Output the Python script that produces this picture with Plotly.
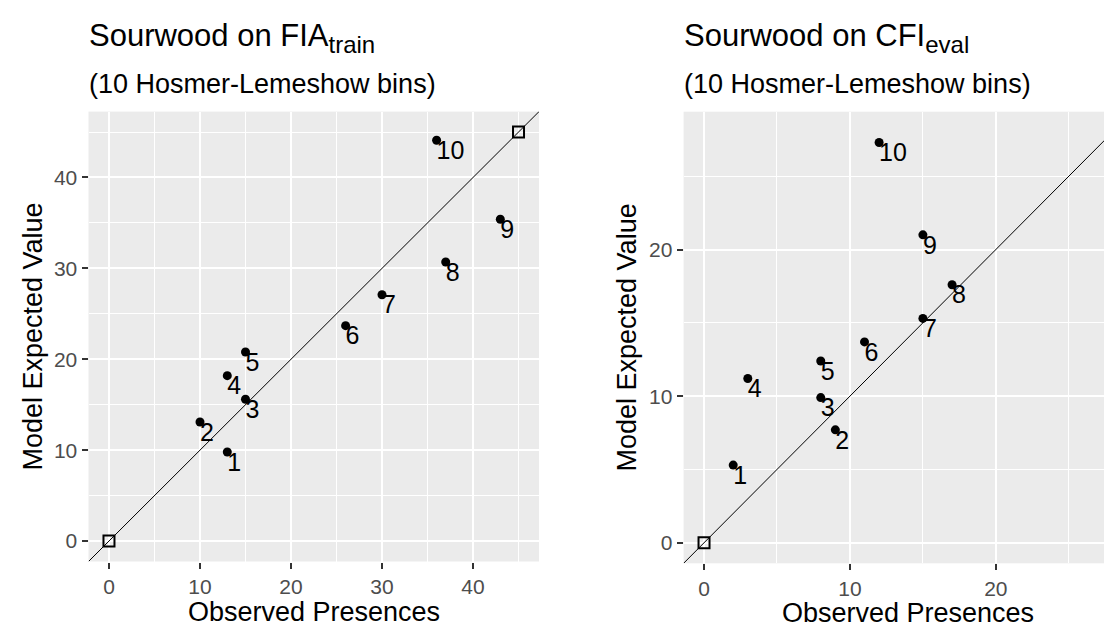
import plotly.graph_objects as go

# ---------------- data ----------------
bins = ["1", "2", "3", "4", "5", "6", "7", "8", "9", "10"]

fia_observed = [13, 10, 15, 13, 15, 26, 30, 37, 43, 36]
fia_expected = [9.8, 13.1, 15.6, 18.2, 20.8, 23.7, 27.1, 30.7, 35.4, 44.1]
fia_ref_x = [0, 45]
fia_ref_y = [0, 45]

cfi_observed = [2, 9, 8, 3, 8, 11, 15, 17, 15, 12]
cfi_expected = [5.3, 7.7, 9.9, 11.2, 12.4, 13.7, 15.3, 17.6, 21.0, 27.3]
cfi_ref_x = [0, 28]
cfi_ref_y = [0, 28]

fia_ticks = [0, 10, 20, 30, 40]
cfi_ticks = [0, 10, 20]

# ---------------- layout constants ----------------
W, H = 1112, 626
FONT = "Liberation Sans, Arial, sans-serif"
PANEL_BG = "#EBEBEB"
TICK_GREY = "#4D4D4D"

def px_x(p):
    return p / W

def px_y(p):
    return 1 - p / H

# left panel pixel box
L_LEFT, L_RIGHT, L_TOP, L_BOTTOM = 80.5, 531.0, 103.6, 553.5
# right panel pixel box (the reference crops the right panel at the image edge)
R_LEFT, R_FULL_RIGHT, R_TOP, R_BOTTOM = 675.6, 1125.0, 103.7, 555.3
R_RIGHT = 1112.0

fia_range_x = [-2.25, 47.25]
fia_range_y = [-2.25, 47.25]
cfi_full_x = [-1.4, 29.4]
cfi_range_x = [cfi_full_x[0],
               cfi_full_x[0] + (R_RIGHT - R_LEFT) / (R_FULL_RIGHT - R_LEFT)
               * (cfi_full_x[1] - cfi_full_x[0])]
cfi_range_y = [-1.4, 29.4]

fig = go.Figure()

def add_panel(obs, exp, refx, refy, line_ends, xa, ya):
    # identity reference line y = x
    fig.add_trace(go.Scatter(
        x=line_ends, y=line_ends, mode="lines",
        line=dict(color="black", width=1), xaxis=xa, yaxis=ya,
        hoverinfo="skip", showlegend=False))
    fig.add_trace(go.Scatter(
        x=refx, y=refy, mode="markers",
        marker=dict(symbol="square-open", size=11, color="black",
                    line=dict(width=2, color="black")),
        xaxis=xa, yaxis=ya, showlegend=False, cliponaxis=False))
    fig.add_trace(go.Scatter(
        x=obs, y=exp, mode="markers",
        marker=dict(symbol="circle", size=9, color="black"),
        xaxis=xa, yaxis=ya, showlegend=False, cliponaxis=False))
    fig.add_trace(go.Scatter(
        x=obs, y=exp, mode="text", text=bins,
        textposition="bottom right",
        textfont=dict(family=FONT, size=25, color="black"),
        xaxis=xa, yaxis=ya, showlegend=False, cliponaxis=False,
        hoverinfo="skip"))

add_panel(fia_observed, fia_expected, fia_ref_x, fia_ref_y, fia_range_x, "x", "y")
add_panel(cfi_observed, cfi_expected, cfi_ref_x, cfi_ref_y, cfi_full_x, "x2", "y2")

def axis(domain, rng, ticks, anchor, minor_dtick):
    return dict(
        domain=domain, range=rng, anchor=anchor,
        tickmode="array", tickvals=ticks, ticktext=[str(t) for t in ticks],
        showgrid=True, gridcolor="white", gridwidth=1.9,
        minor=dict(dtick=minor_dtick, tick0=5, showgrid=True,
                   gridcolor="white", gridwidth=0.9, ticks=""),
        zeroline=False, showline=False,
        ticks="outside", ticklen=6, tickwidth=1.5, tickcolor="#333333",
        tickfont=dict(family=FONT, size=21, color=TICK_GREY),
        fixedrange=True,
    )

fig.update_layout(
    width=W, height=H,
    margin=dict(l=0, r=0, t=0, b=0),
    paper_bgcolor="white",
    plot_bgcolor=PANEL_BG,
    showlegend=False,
    font=dict(family=FONT, color="black"),
    xaxis=axis([px_x(L_LEFT), px_x(L_RIGHT)], fia_range_x, fia_ticks, "y", 10),
    yaxis=axis([px_y(L_BOTTOM), px_y(L_TOP)], fia_range_y, fia_ticks, "x", 10),
    xaxis2=axis([px_x(R_LEFT), px_x(R_RIGHT)], cfi_range_x, cfi_ticks, "y2", 10),
    yaxis2=axis([px_y(R_BOTTOM), px_y(R_TOP)], cfi_range_y, cfi_ticks, "x2", 10),
)

def ann(text, x, y, size, xanchor="left", angle=0):
    fig.add_annotation(
        text=text, x=px_x(x), y=px_y(y), xref="paper", yref="paper",
        xanchor=xanchor, yanchor="middle", showarrow=False, textangle=angle,
        font=dict(family=FONT, size=size, color="black"))

SUB = "<sub><span style='font-size:24px'>{}</span></sub>"

# titles & subtitles
ann("Sourwood on FIA" + SUB.format("train"), L_LEFT - 2, 30, 31)
ann("(10 Hosmer-Lemeshow bins)", L_LEFT - 2, 76, 27)
ann("Sourwood on CFI" + SUB.format("eval"), R_LEFT - 2, 30, 31)
ann("(10 Hosmer-Lemeshow bins)", R_LEFT - 2, 76, 27)

# axis titles
ann("Observed Presences", (L_LEFT + L_RIGHT) / 2, 604, 27, "center")
ann("Observed Presences", (R_LEFT + R_FULL_RIGHT) / 2, 605, 27, "center")
ann("Model Expected Value", 25, (L_TOP + L_BOTTOM) / 2, 27, "center", -90)
ann("Model Expected Value", 618, (R_TOP + R_BOTTOM) / 2, 27, "center", -90)

fig.write_html("out.html")
